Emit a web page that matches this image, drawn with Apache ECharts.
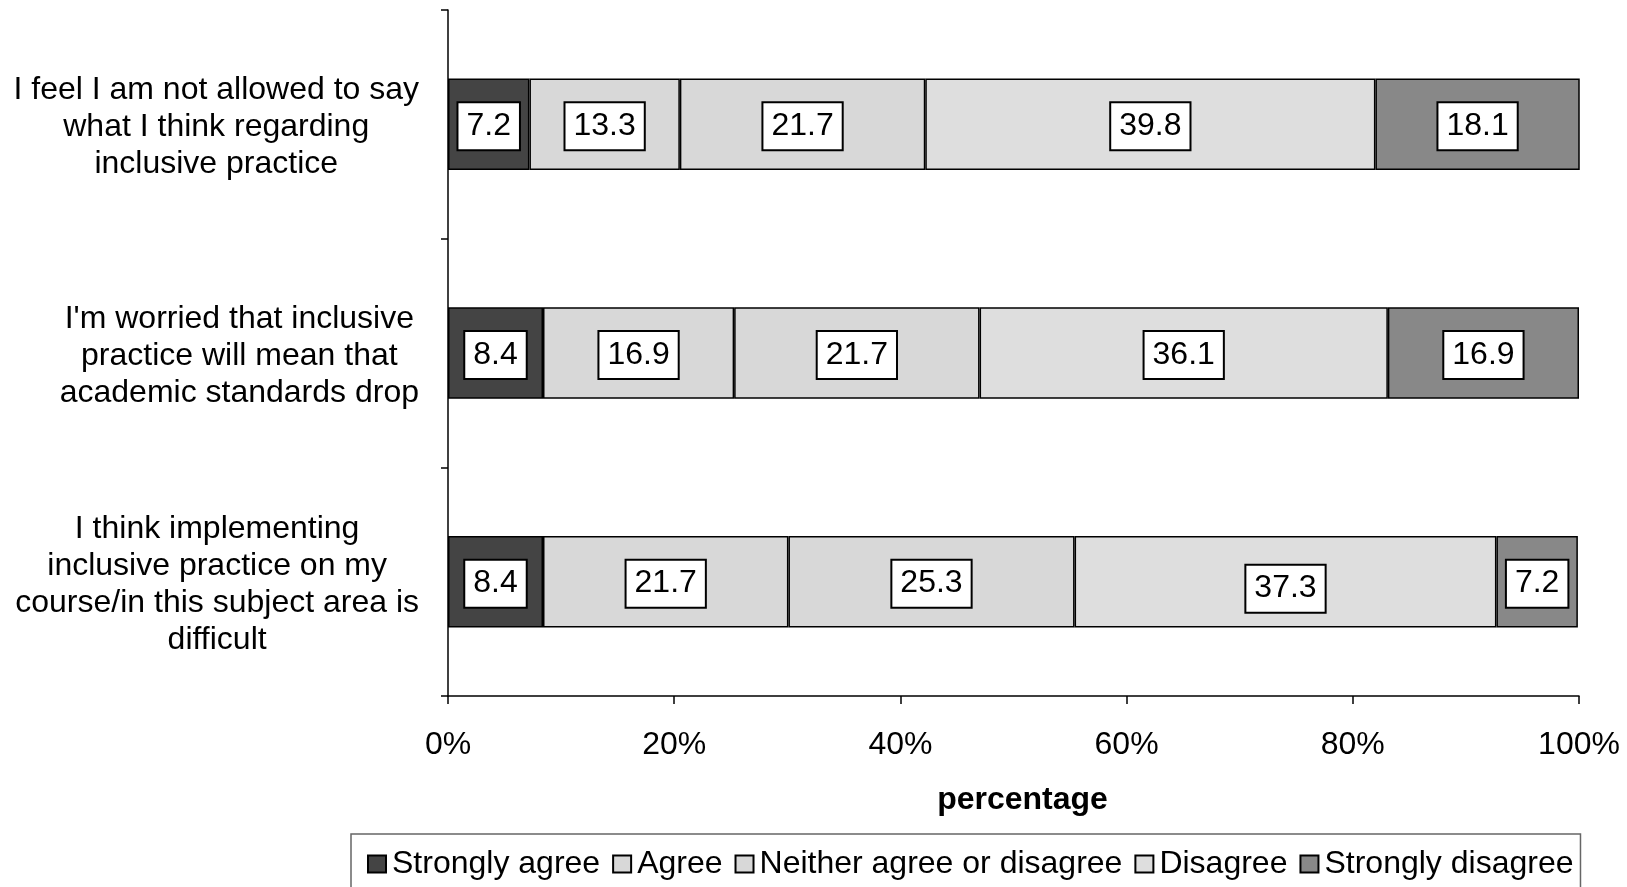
<!DOCTYPE html>
<html>
<head>
<meta charset="utf-8">
<style>
  html, body { margin: 0; padding: 0; background: #fff; }
  #chart { width: 1627px; height: 887px; }
</style>
<script src="https://cdn.jsdelivr.net/npm/echarts@6/dist/echarts.min.js"></script>
</head>
<body>
<div id="chart"></div>
<script>
// Survey statements (top to bottom)
const statements = [
  "I feel I am not allowed to say\nwhat I think regarding\ninclusive practice",
  "I'm worried that inclusive\npractice will mean that\nacademic standards drop",
  "I think implementing\ninclusive practice on my\ncourse/in this subject area is\ndifficult"
];

// Response categories
const responses = ["Strongly agree", "Agree", "Neither agree or disagree", "Disagree", "Strongly disagree"];

// Percentages per response, one value per statement
const stronglyAgree    = [7.2, 8.4, 8.4];
const agree            = [13.3, 16.9, 21.7];
const neither          = [21.7, 21.7, 25.3];
const disagree         = [39.8, 36.1, 37.3];
const stronglyDisagree = [18.1, 16.9, 7.2];

const xTicks = [0, 20, 40, 60, 80, 100];

const seriesValues = [stronglyAgree, agree, neither, disagree, stronglyDisagree];
const colors = ["#444444", "#d8d8d8", "#d8d8d8", "#dedede", "#888888"];

const FONT = "'Liberation Sans', Arial, sans-serif";
const FS = 32;

const chart = echarts.init(document.getElementById('chart'), null, { renderer: 'canvas' });

const series = seriesValues.map((vals, i) => ({
  name: responses[i],
  type: 'bar',
  stack: 'total',
  barWidth: '40%',
  itemStyle: { color: colors[i], borderColor: '#000', borderWidth: 1.5 },
  label: {
    show: true,
    position: 'inside',
    offset: [0, 2],
    color: '#000',
    fontFamily: FONT,
    fontSize: FS,
    lineHeight: 32,
    backgroundColor: '#fff',
    borderColor: '#000',
    borderWidth: 2,
    padding: [8, 8, 6, 8],
    formatter: p => p.value.toFixed(1)
  },
  data: vals.map((v, j) => {
    // the 37.3 label sits a little lower in its bar
    if (i === 3 && j === 2) return { value: v, label: { offset: [0, 7] } };
    return v;
  })
}));

chart.setOption({
  animation: false,
  backgroundColor: '#fff',
  textStyle: { fontFamily: FONT },
  grid: { left: 448, right: 48, top: 10, bottom: 191, containLabel: false },
  xAxis: {
    type: 'value',
    min: xTicks[0],
    max: xTicks[xTicks.length - 1],
    interval: 20,
    name: 'percentage',
    nameLocation: 'middle',
    nameGap: 88,
    nameTextStyle: { fontFamily: FONT, fontSize: FS, fontWeight: 'bold', color: '#000', padding: [0, 0, 0, 18] },
    axisLine: { show: true, lineStyle: { color: '#000', width: 1.5 } },
    axisTick: { show: true, length: 8, lineStyle: { color: '#000', width: 1.5 } },
    splitLine: { show: false },
    axisLabel: {
      margin: 33,
      fontFamily: FONT,
      fontSize: FS,
      color: '#000',
      formatter: v => v + '%'
    }
  },
  yAxis: {
    type: 'category',
    inverse: true,
    data: statements,
    axisLine: { show: true, lineStyle: { color: '#000', width: 1.5 } },
    axisTick: { show: true, length: 7, lineStyle: { color: '#000', width: 1.5 } },
    axisLabel: {
      margin: 29,
      color: '#000',
      fontFamily: FONT,
      fontSize: FS,
      lineHeight: 37,
      align: 'right',
      padding: [6, 0, 0, 0],
      formatter: s => s.split('\n').map(l => '{c|' + l + '}').join('\n'),
      rich: {
        c: { align: 'center', fontFamily: FONT, fontSize: FS, lineHeight: 37, color: '#000' }
      }
    }
  },
  legend: {
    top: 834,
    left: 351,
    data: responses,
    icon: 'rect',
    itemWidth: 18,
    itemHeight: 17,
    itemGap: 12,
    padding: [14, 7, 30, 16],
    borderColor: '#666',
    borderWidth: 1.5,
    backgroundColor: '#fff',
    textStyle: { fontFamily: FONT, fontSize: FS, color: '#000', padding: [0, 0, 0, 1] }
  },
  series: series
});
</script>
</body>
</html>
